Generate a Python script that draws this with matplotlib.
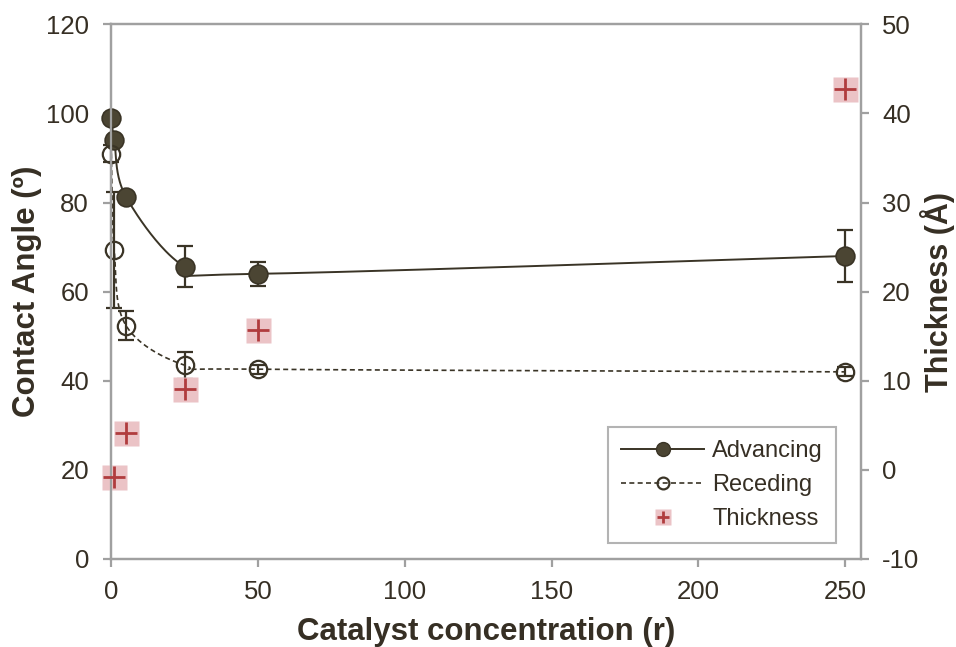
import numpy as np
import matplotlib.pyplot as plt
from matplotlib.lines import Line2D

plt.rcParams['font.family'] = ['Liberation Sans', 'DejaVu Sans']
plt.rcParams['axes.unicode_minus'] = False

# ---- data ----
r = [0, 1, 5, 25, 50, 250]
advancing = [99, 94, 81.3, 65.6, 64.0, 68.0]
advancing_err = [0, 0, 0, 4.6, 2.7, 5.8]
receding = [91, 69.3, 52.4, 43.5, 42.6, 42.0]
receding_err = [1.8, 13.0, 3.2, 3.0, 1.0, 1.0]

r_thick = [1, 5, 25, 50, 250]
thickness = [-0.8, 4.1, 9.1, 15.7, 42.7]

TXT = '#362f24'
DARK = '#4b4533'
EDGE = '#3a3426'
GRID = '#a0a0a0'
PINK = '#ebc3c6'
RED = '#b03c3e'

XMAX = 255.5
YMAX = 120


def smooth(xs, ys, sx, sy, n=40):
    # Excel-like smoothed line: Catmull-Rom in pixel space
    P = np.column_stack([np.array(xs) * sx, np.array(ys) * sy])
    pts = []
    for i in range(len(P) - 1):
        p0 = P[i - 1] if i > 0 else P[i]
        p1, p2 = P[i], P[i + 1]
        p3 = P[i + 2] if i + 2 < len(P) else P[i + 1]
        c1 = p1 + (p2 - p0) / 6
        c2 = p2 - (p3 - p1) / 6
        t = np.linspace(0, 1, n)[:, None]
        seg = (1 - t) ** 3 * p1 + 3 * (1 - t) ** 2 * t * c1 + 3 * (1 - t) * t ** 2 * c2 + t ** 3 * p2
        pts.append(seg)
    pts = np.vstack(pts)
    return pts[:, 0] / sx, pts[:, 1] / sy


fig = plt.figure(figsize=(9.56, 6.47), dpi=100)
L, R, B, T = 111.3, 861.3, 559, 24.3
ax = fig.add_axes([L / 956, (647 - B) / 647, (R - L) / 956, (B - T) / 647])
ax2 = ax.twinx()

ax.set_xlim(0, XMAX)
ax.set_ylim(0, YMAX)
ax2.set_ylim(-10, 50)

sx = (R - L) / XMAX
sy = (B - T) / YMAX

# smoothed lines
xa, ya = smooth(r, advancing, sx, sy)
ax.plot(xa, ya, color=EDGE, lw=1.4, zorder=3, clip_on=False)
xr, yr = smooth(r, receding, sx, sy)
ax.plot(xr, yr, color=EDGE, lw=1.2, ls=(0, (3, 2)), zorder=3, clip_on=False)

# error bars + markers
for vals, errs in [(advancing, advancing_err), (receding, receding_err)]:
    eb = ax.errorbar(r, vals, yerr=errs, fmt='none', ecolor=EDGE,
                     elinewidth=1.6, capsize=5.5, capthick=1.6, zorder=4)
    for c in eb.get_children():
        c.set_clip_on(False)
ax.plot(r, advancing, 'o', ms=13.5, mfc=DARK, mec=EDGE, mew=1.2, zorder=5, clip_on=False)
ax.plot(r, receding, 'o', ms=12.5, mfc='none', mec=EDGE, mew=1.6, zorder=5, clip_on=False)

# thickness on right axis
ax2.plot(r_thick, thickness, 's', ms=18, mfc=PINK, mec='none', zorder=2, clip_on=False)
ax2.plot(r_thick, thickness, '+', ms=16, mew=2.0, color=RED, zorder=3, clip_on=False)

# axes styling
for a in (ax, ax2):
    for s in a.spines.values():
        s.set_color(GRID)
        s.set_linewidth(1.6)
ax.set_xticks([0, 50, 100, 150, 200, 250])
ax.set_yticks(np.arange(0, 121, 20))
ax2.set_yticks(np.arange(-10, 51, 10))
ax.tick_params(axis='both', direction='out', length=6, width=1.6, color=GRID,
               labelsize=18.5, labelcolor=TXT)
ax.tick_params(axis='y', pad=10)
ax.tick_params(axis='x', pad=9)
ax2.tick_params(axis='y', direction='out', length=6, width=1.6, color=GRID,
                labelsize=18.5, labelcolor=TXT, pad=9)

ax.set_xlabel('Catalyst concentration (r)', fontsize=22.5, fontweight='bold', color=TXT)
ax.xaxis.set_label_coords(0.5, -(617 - B) / (B - T))
ax.set_ylabel('Contact Angle (º)', fontsize=22.5, fontweight='bold', color=TXT)
ax.yaxis.set_label_coords((42 - L) / (R - L), 0.5)
ax2.set_ylabel('Thickness (Å)', fontsize=22, fontweight='bold', color=TXT)
ax2.yaxis.set_label_coords((920 - L) / (R - L), 0.5)

# legend
h_adv = Line2D([], [], color=EDGE, lw=1.4, marker='o', ms=10, mfc=DARK, mec=EDGE)
h_rec = Line2D([], [], color=EDGE, lw=1.2, ls=(0, (3, 2)), marker='o', ms=8.5, mfc='none', mec=EDGE, mew=1.6)
h_thk = (Line2D([], [], ls='none', marker='s', ms=11, mfc=PINK, mec='none'),
         Line2D([], [], ls='none', marker='+', ms=9, mew=2, color=RED))
leg = ax.legend([h_adv, h_rec, h_thk], ['Advancing', 'Receding', 'Thickness'],
                loc='lower right', bbox_to_anchor=((836 - L) / (R - L), (B - 543) / (B - T)),
                borderaxespad=0, fontsize=17, frameon=True, fancybox=False,
                edgecolor=GRID, handlelength=3.5, handletextpad=0.35,
                labelspacing=0.5, borderpad=0.55)
leg.get_frame().set_linewidth(1.5)
for t in leg.get_texts():
    t.set_color(TXT)
leg.set_zorder(10)

fig.savefig('out.png', dpi=100)
